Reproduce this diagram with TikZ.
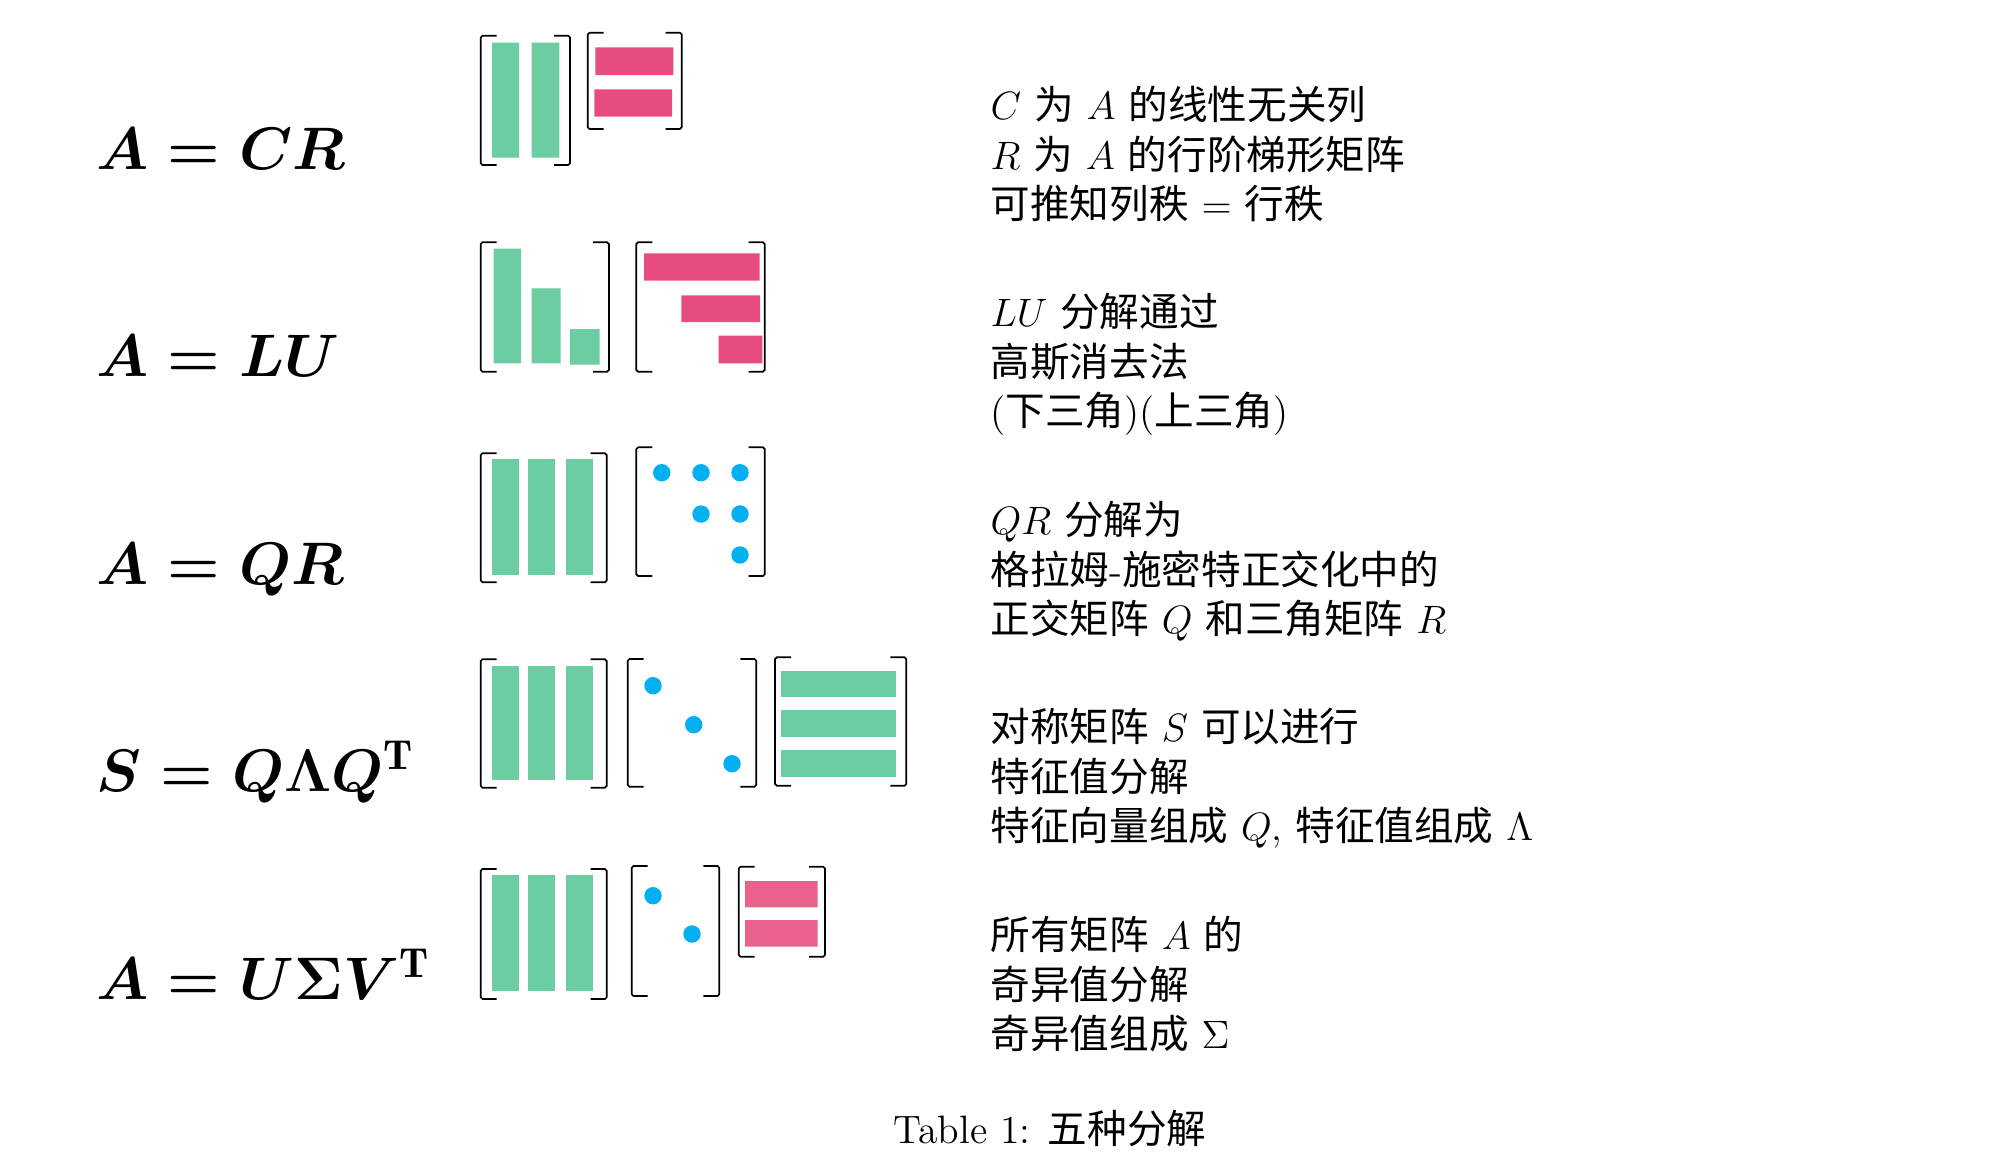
\RequirePackage{fix-cm}
\documentclass[tikz,border=0pt]{standalone}
\usepackage{amsmath,amssymb}
\usepackage{fontspec}
\newfontfamily\cjkfont{Noto Sans CJK SC}
\newcommand\zh[1]{{\cjkfont #1}}
\definecolor{grn}{HTML}{6CCDA3}
\definecolor{rd}{HTML}{E64D7E}
\definecolor{pk}{HTML}{E9628B}
\definecolor{bl}{HTML}{00B0F0}
\newcommand\lblfont{\fontsize{20pt}{24pt}\selectfont}
\newcommand\descfont{\fontsize{13.2pt}{16.5pt}\selectfont}
\tikzset{
 brk/.style={line width=0.55pt,rounded corners=0.6pt},
 lbl/.style={anchor=base west,inner sep=0pt,font=\lblfont},
 desc/.style={anchor=base west,inner sep=0pt,align=left,font=\descfont}}
% left x, right x, top y, bottom y
\newcommand\matbrk[4]{%
  \draw[brk] (#1+16,#3) -- (#1,#3) -- (#1,#4) -- (#1+16,#4);
  \draw[brk] (#2-16,#3) -- (#2,#3) -- (#2,#4) -- (#2-16,#4);}
\newcommand\dotat[2]{\fill[bl] (#1,#2) circle [radius=2.9pt];}

\begin{document}
\begin{tikzpicture}[x=0.3333pt,y=-0.3333pt]
\useasboundingbox (0,0) rectangle (1998,1164);
% row labels
\node[lbl] (cr) at (96,169) {$\boldsymbol{A=CR}$};
\node[lbl] (lu) at (96,376) {$\boldsymbol{A=LU}$};
\node[lbl] (qr) at (96,584) {$\boldsymbol{A=QR}$};
\node[lbl] (eig) at (96,791) {$\boldsymbol{S=Q\Lambda Q^{\mathrm{T}}}$};
\node[lbl] (svd) at (96,999) {$\boldsymbol{A=U\Sigma V^{\mathrm{T}}}$};
% A = CR
\matbrk{480.7}{570}{35.7}{165}
\fill[grn] (492,42.7) rectangle (519,157.7) (531.7,42.7) rectangle (559.3,157.7);
\matbrk{587.7}{681.7}{32.7}{129}
\fill[rd] (595.3,47.3) rectangle (673.3,75) (594.3,89.3) rectangle (672,116.7);
% A = LU
\matbrk{480.7}{609}{242.3}{371.7}
\fill[grn] (493.7,248.7) rectangle (521,363.3) (531.7,288.3) rectangle (560.7,363.3)
 (570,329) rectangle (599.7,364.7);
\matbrk{636.3}{764.7}{242.3}{371.7}
\fill[rd] (644,253.3) rectangle (759.7,280.7) (681.3,295.3) rectangle (760,322)
 (718.7,335.7) rectangle (762.3,363.3);
% A = QR
\matbrk{480.7}{606.7}{453.3}{582.3}
\foreach \a/\b in {491.7/519,528/555.3,565.7/592.7}
 \fill[grn] (\a,459.3) rectangle (\b,575);
\matbrk{636.3}{764.7}{447.3}{576}
\dotat{661.7}{472.7}\dotat{701}{472.7}\dotat{740}{472.7}
\dotat{701}{514}\dotat{740}{514}\dotat{740}{555}
% S = Q Lambda Q^T
\matbrk{480.7}{606.7}{659.3}{787.7}
\foreach \a/\b in {491.7/519,528/555.3,565.7/592.7}
 \fill[grn] (\a,666) rectangle (\b,780);
\matbrk{627.7}{756.3}{659}{786.7}
\dotat{653}{685.7}\dotat{693.7}{724.7}\dotat{732}{763.7}
\matbrk{775}{906.3}{657.3}{785.7}
\foreach \a/\b in {671/697.3,710/736.7,750/776.7}
 \fill[grn] (780.7,\a) rectangle (896,\b);
% A = U Sigma V^T
\matbrk{480.7}{606.7}{869}{999}
\foreach \a/\b in {491.7/519,528/555.3,565.7/592.7}
 \fill[grn] (\a,875) rectangle (\b,991.3);
\matbrk{631.7}{719.3}{866}{996}
\dotat{653}{895.7}\dotat{692}{934}
\matbrk{738.7}{825}{866.7}{956.7}
\fill[pk] (745,881) rectangle (817.7,907.3) (745,920) rectangle (817.7,946.7);
% descriptions (base = last line)
\node[desc] (dcr) at (990,218.5) {$C$ \zh{为} $A$ \zh{的线性无关列}\\
 $R$ \zh{为} $A$ \zh{的行阶梯形矩阵}\\ \zh{可推知列秩} $=$ \zh{行秩}};
\node[desc] (dlu) at (990,425.5) {$LU$ \zh{分解通过}\\ \zh{高斯消去法}\\
 (\zh{下三角})(\zh{上三角})};
\node[desc] (dqr) at (990,633.5) {$QR$ \zh{分解为}\\ \zh{格拉姆}-\zh{施密特正交化中的}\\
 \zh{正交矩阵} $Q$ \zh{和三角矩阵} $R$};
\node[desc] (deig) at (990,840.5) {\zh{对称矩阵} $S$ \zh{可以进行}\\ \zh{特征值分解}\\
 \zh{特征向量组成} $Q$, \zh{特征值组成} $\Lambda$};
\node[desc] (dsvd) at (990,1048.5) {\zh{所有矩阵} $A$ \zh{的}\\ \zh{奇异值分解}\\
 \zh{奇异值组成} $\Sigma$};
\node[anchor=base,inner sep=0pt,font=\descfont] (cap) at (1050,1143)
 {Table 1: \zh{五种分解}};
\end{tikzpicture}
\end{document}
